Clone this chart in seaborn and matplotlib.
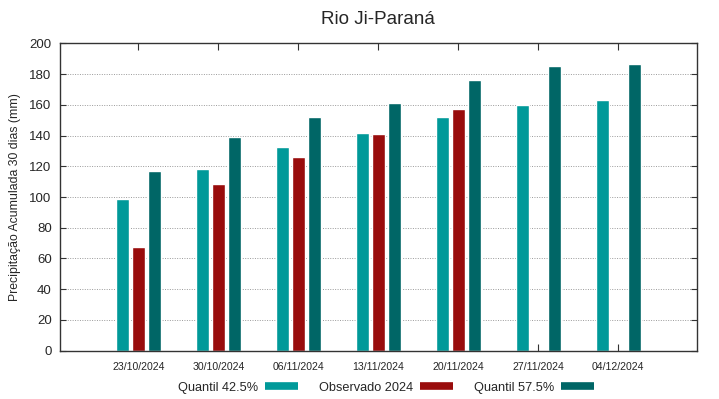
#!/usr/bin/env python3

import matplotlib
matplotlib.use("Agg")
import matplotlib.pyplot as plt
from matplotlib.lines import Line2D
import seaborn as sns
import pandas as pd
import numpy as np

# ===================== DADOS =====================

datas = ["23/10/2024", "30/10/2024", "06/11/2024", "13/11/2024",
         "20/11/2024", "27/11/2024", "04/12/2024"]

quantil_425 = [98.7, 118.0, 132.5, 141.6, 151.8, 159.9, 163.1]
observado_2024 = [67.3, 108.3, 126.2, 141.2, 157.0, np.nan, np.nan]
quantil_575 = [116.9, 138.8, 151.8, 161.0, 176.1, 185.2, 186.5]

series = ["Quantil 42.5%", "Observado 2024", "Quantil 57.5%"]
cores = ["#009999", "#990c0c", "#006666"]

# ===================== GRÁFICO =====================

def main() -> None:

    sns.set_style("white")
    plt.rcParams["font.family"] = ["Liberation Sans", "DejaVu Sans"]

    df = pd.DataFrame({
        "Data": datas * 3,
        "Valor": quantil_425 + observado_2024 + quantil_575,
        "Serie": [series[0]] * 7 + [series[1]] * 7 + [series[2]] * 7,
    })

    fig = plt.figure(figsize=(7.19, 3.99), dpi=100)
    ax = fig.add_axes([0.0834, 0.121, 0.8856, 0.7705])

    sns.barplot(
        data=df,
        x="Data",
        y="Valor",
        hue="Serie",
        hue_order=series,
        order=datas,
        palette=cores,
        width=0.6,
        gap=0.2,
        errorbar=None,
        saturation=1,
        legend=False,
        ax=ax
    )

    ax.set_xlim(-0.98, 6.98)
    ax.set_ylim(0, 200)
    ax.set_yticks(np.arange(0, 201, 20))
    ax.grid(axis="y", linestyle=(0, (1, 1.5)), color="#9a9a9a", linewidth=0.7)
    ax.set_axisbelow(True)

    ax.set_title("Rio Ji-Paraná", fontsize=13.5, pad=14)
    ax.set_xlabel("")
    ax.set_ylabel("Precipitação Acumulada 30 dias (mm)", fontsize=8.8, labelpad=6)

    ax.tick_params(axis="y", direction="in", length=4, left=True, right=True,
                   labelsize=9.5, pad=6, color="#333333")
    ax.tick_params(axis="x", direction="in", length=5, bottom=True, top=True,
                   labelsize=7.6, pad=8, color="#333333")

    for s in ax.spines.values():
        s.set_color("#333333")
        s.set_linewidth(1)

    handles = [Line2D([0], [0], color=c, lw=5.5, solid_capstyle="butt")
               for c in cores]
    fig.legend(
        handles, series,
        loc="center",
        bbox_to_anchor=(0.537, 0.028),
        ncol=3,
        frameon=False,
        markerfirst=False,
        fontsize=9.2,
        handlelength=2.6,
        handletextpad=0.55,
        columnspacing=1.6
    )

    fig.savefig("out.png", dpi=100)
    plt.close("all")


if __name__ == "__main__":
    main()
